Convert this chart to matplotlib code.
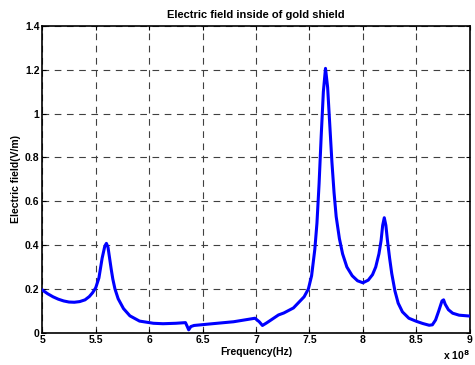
import matplotlib.pyplot as plt

# frequency in units of 1e8 Hz, field in V/m
freq = [5.00, 5.05, 5.10, 5.15, 5.20, 5.25, 5.30, 5.35, 5.40, 5.44, 5.47,
        5.50, 5.53, 5.56, 5.585, 5.60, 5.615, 5.63, 5.645, 5.66, 5.68,
        5.71, 5.76, 5.82, 5.91, 6.04, 6.13, 6.25, 6.34, 6.355, 6.37, 6.39,
        6.42, 6.57, 6.79, 6.99, 7.03, 7.06, 7.10, 7.14, 7.21, 7.26, 7.35,
        7.45, 7.49, 7.52, 7.55, 7.57, 7.59, 7.61, 7.63, 7.65, 7.67,
        7.69, 7.71, 7.73, 7.75, 7.78, 7.81, 7.85, 7.90, 7.95, 8.00, 8.05,
        8.09, 8.12, 8.15, 8.17, 8.185, 8.20, 8.215, 8.23, 8.25, 8.27, 8.30,
        8.33, 8.37, 8.43, 8.50, 8.56, 8.62, 8.65, 8.68, 8.71, 8.74, 8.755,
        8.77, 8.80, 8.84, 8.90, 9.00]
efield = [0.195, 0.178, 0.164, 0.153, 0.145, 0.140, 0.139, 0.142, 0.150,
          0.165, 0.182, 0.205, 0.250, 0.340, 0.395, 0.408, 0.390, 0.340,
          0.290, 0.245, 0.200, 0.155, 0.110, 0.077, 0.053, 0.043, 0.041,
          0.043, 0.046, 0.030, 0.013, 0.028, 0.033, 0.040, 0.050, 0.066,
          0.050, 0.033, 0.045, 0.058, 0.081, 0.090, 0.113, 0.164, 0.200,
          0.260, 0.380, 0.500, 0.680, 0.900, 1.100, 1.207, 1.120,
          0.950, 0.780, 0.640, 0.530, 0.430, 0.360, 0.300, 0.260, 0.237,
          0.228, 0.240, 0.265, 0.300, 0.360, 0.420, 0.490, 0.525, 0.490,
          0.420, 0.340, 0.270, 0.190, 0.135, 0.095, 0.066, 0.052, 0.042,
          0.034, 0.036, 0.058, 0.100, 0.145, 0.150, 0.130, 0.105, 0.089,
          0.080, 0.076]

xticks = [5, 5.5, 6, 6.5, 7, 7.5, 8, 8.5, 9]
xticklabels = ["5", "5.5", "6", "6.5", "7", "7.5", "8", "8.5", "9"]
yticks = [0, 0.2, 0.4, 0.6, 0.8, 1.0, 1.2, 1.4]
yticklabels = ["0", "0.2", "0.4", "0.6", "0.8", "1", "1.2", "1.4"]

plt.rcParams['font.family'] = ['Liberation Sans', 'DejaVu Sans']
plt.rcParams['font.weight'] = 'bold'

fig = plt.figure(figsize=(4.75, 3.65), dpi=100)
ax = fig.add_axes([0.089, 0.0885, 0.900, 0.840])

ax.plot(freq, efield, color=(0, 0, 1), linewidth=2.2, zorder=3,
        solid_joinstyle='round')

ax.set_xlim(5, 9)
ax.set_ylim(0, 1.4)
ax.set_xticks(xticks)
ax.set_xticklabels(xticklabels)
ax.set_yticks(yticks)
ax.set_yticklabels(yticklabels)
ax.tick_params(direction='in', top=True, right=True, length=3,
               labelsize=7.5, pad=2)
for lab in ax.get_xticklabels() + ax.get_yticklabels():
    lab.set_fontweight('bold')

ax.grid(True, color='0.25', linestyle=(0, (6, 5)), linewidth=0.8)
for s in ax.spines.values():
    s.set_linewidth(1.2)

ax.set_title("Electric field inside of gold shield", fontsize=8,
             fontweight='bold', pad=6)
ax.set_xlabel("Frequency(Hz)", fontsize=7.5, fontweight='bold', labelpad=1)
ax.set_ylabel("Electric field(V/m)", fontsize=7.5, fontweight='bold',
              labelpad=3)
ax.text(1.0, -0.05, r"x 10$^{8}$", transform=ax.transAxes, ha='right',
        va='top', fontsize=7.5, fontweight='bold')

fig.savefig("out.png", dpi=100)
